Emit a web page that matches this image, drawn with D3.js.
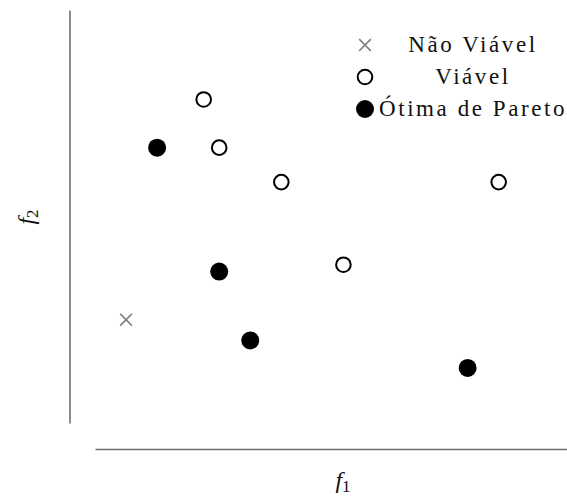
<!DOCTYPE html>
<html lang="pt">
<head>
    <meta charset="UTF-8">
    <title>Fronteira de Pareto</title>
    <script src="https://d3js.org/d3.v7.min.js"></script>
    <style>
        body { margin: 0; background: #fff; }
        svg { display: block; }
        text { font-family: "Liberation Serif", "DejaVu Serif", serif; fill: #111; }
        .axis path { stroke: #707070; stroke-width: 1.6px; }
    </style>
</head>
<body>
    <div id="chart"></div>

    <script>
        // legend labels, one per series
        const categories = ["Não Viável", "Viável", "Ótima de Pareto"];

        // Não Viável
        const naoViavelF1 = [2];
        const naoViavelF2 = [7];

        // Viável
        const viavelF1 = [4.5, 5, 7, 9, 14];
        const viavelF2 = [39, 32, 27, 15, 27];

        // Ótima de Pareto
        const otimaF1 = [3, 5, 6, 13];
        const otimaF2 = [32, 14, 4, 0];

        const width = 567, height = 499;
        const svg = d3.select("#chart").append("svg")
            .attr("width", width).attr("height", height);

        // plot area: 95..567 horizontally, 10..423 vertically
        const x = d3.scaleLinear().domain([1, 16.2]).range([95, 567]);
        const y = d3.scaleLinear().domain([-8, 52]).range([423, 10]);

        // spines pushed outward, no ticks
        svg.append("g").attr("class", "axis")
            .attr("transform", "translate(0,449)")
            .call(d3.axisBottom(x).tickValues([]).tickSizeOuter(0));
        svg.append("g").attr("class", "axis")
            .attr("transform", "translate(69.5,0)")
            .call(d3.axisLeft(y).tickValues([]).tickSizeOuter(0));

        const zip = (a, b) => a.map((v, i) => [v, b[i]]);

        // infeasible: gray crosses
        const cross = d3.symbol().type(d3.symbolX).size(90);
        svg.selectAll(".nv").data(zip(naoViavelF1, naoViavelF2))
            .enter().append("path")
            .attr("d", cross)
            .attr("transform", d => `translate(${x(d[0])},${y(d[1])})`)
            .attr("fill", "none").attr("stroke", "#808080").attr("stroke-width", 1.6);

        // feasible: open circles
        svg.selectAll(".v").data(zip(viavelF1, viavelF2))
            .enter().append("circle")
            .attr("cx", d => x(d[0])).attr("cy", d => y(d[1]))
            .attr("r", 7.3)
            .attr("fill", "#fff").attr("stroke", "#000").attr("stroke-width", 2);

        // pareto optimal: filled circles
        svg.selectAll(".o").data(zip(otimaF1, otimaF2))
            .enter().append("circle")
            .attr("cx", d => x(d[0])).attr("cy", d => y(d[1]))
            .attr("r", 9)
            .attr("fill", "#000");

        // axis labels
        const f1 = svg.append("text")
            .attr("x", 343).attr("y", 488)
            .attr("text-anchor", "middle")
            .style("font-size", "24px");
        f1.append("tspan").style("font-style", "italic").text("f");
        f1.append("tspan").attr("dy", 4).style("font-size", "17px").text("1");

        const f2 = svg.append("text")
            .attr("transform", "translate(34,217) rotate(-90)")
            .attr("text-anchor", "middle")
            .style("font-size", "24px");
        f2.append("tspan").style("font-style", "italic").text("f");
        f2.append("tspan").attr("dy", 4).style("font-size", "17px").text("2");

        // legend
        const rowY = [45, 77, 109];
        const legend = svg.append("g");

        legend.append("path")
            .attr("d", cross)
            .attr("transform", `translate(365,${rowY[0]})`)
            .attr("fill", "none").attr("stroke", "#808080").attr("stroke-width", 1.6);
        legend.append("circle")
            .attr("cx", 365).attr("cy", rowY[1]).attr("r", 7.3)
            .attr("fill", "#fff").attr("stroke", "#000").attr("stroke-width", 2);
        legend.append("circle")
            .attr("cx", 365).attr("cy", rowY[2]).attr("r", 9)
            .attr("fill", "#000");

        const labels = legend.selectAll(".lab").data(categories)
            .enter().append("text")
            .attr("x", 473)
            .attr("y", (d, i) => rowY[i] + 7)
            .attr("text-anchor", "middle")
            .style("font-size", "23px")
            .text(d => d);

        // widen the letters a little so the longest label spans like the figure
        const longest = labels.filter((d, i) => i === 2).node().getComputedTextLength();
        const ls = Math.max(0, (188 - longest) / 15);
        labels.style("letter-spacing", ls + "px");
    </script>
</body>
</html>
